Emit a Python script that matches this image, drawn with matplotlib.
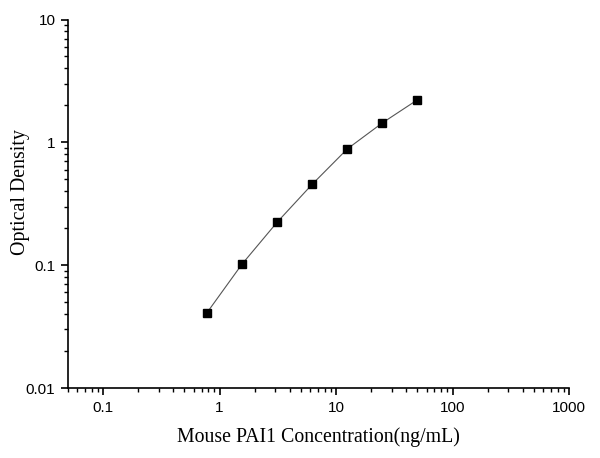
import matplotlib
matplotlib.use("Agg")
import matplotlib.pyplot as plt
from matplotlib.ticker import LogLocator, FixedLocator, FixedFormatter, NullFormatter

conc = [0.78, 1.56, 3.125, 6.25, 12.5, 25, 50]
od = [0.041, 0.102, 0.224, 0.456, 0.884, 1.44, 2.22]
xticks = [0.1, 1, 10, 100, 1000]
xticklabels = ["0.1", "1", "10", "100", "1000"]
yticks = [0.01, 0.1, 1, 10]
yticklabels = ["0.01", "0.1", "1", "10"]

fig = plt.figure(figsize=(6, 4.58), dpi=100)
ax = fig.add_axes([68/600, 70/458, (569-68)/600, (388-19.5)/458])
ax.plot(conc, od, color="#555555", linewidth=0.8, marker="s", markersize=5.5,
        markerfacecolor="black", markeredgecolor="black")
ax.set_xscale("log")
ax.set_yscale("log")
ax.set_xlim(0.05, 1000)
ax.set_ylim(0.01, 10)
for s in ["top", "right"]:
    ax.spines[s].set_visible(False)
for s in ["left", "bottom"]:
    ax.spines[s].set_linewidth(1.2)
ax.xaxis.set_major_locator(FixedLocator(xticks))
ax.xaxis.set_major_formatter(FixedFormatter(xticklabels))
ax.yaxis.set_major_locator(FixedLocator(yticks))
ax.yaxis.set_major_formatter(FixedFormatter(yticklabels))
ax.xaxis.set_minor_locator(LogLocator(base=10, subs=range(2, 10), numticks=20))
ax.yaxis.set_minor_locator(LogLocator(base=10, subs=range(2, 10), numticks=20))
ax.xaxis.set_minor_formatter(NullFormatter())
ax.yaxis.set_minor_formatter(NullFormatter())
ax.tick_params(which="major", direction="out", length=5, width=1.2,
               labelsize=11, pad=4)
ax.tick_params(which="minor", direction="out", length=3, width=1)
for lab in ax.get_xticklabels() + ax.get_yticklabels():
    lab.set_fontfamily("Liberation Sans")
ax.set_xlabel("Mouse PAI1 Concentration(ng/mL)", fontfamily="Liberation Serif",
              fontsize=14.3, labelpad=9)
ax.set_ylabel("Optical Density", fontfamily="Liberation Serif", fontsize=14.3)
ax.yaxis.set_label_coords(-0.076, 0.532)
fig.savefig("out.png", dpi=100)
